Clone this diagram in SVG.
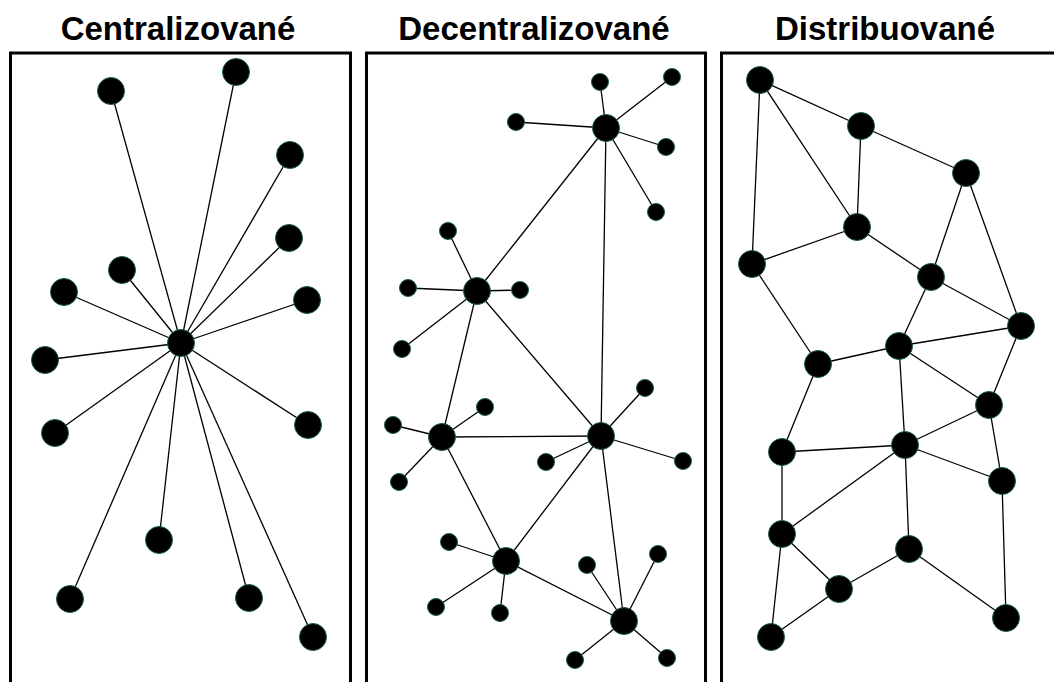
<svg xmlns="http://www.w3.org/2000/svg" width="1054" height="682" viewBox="0 0 1054 682">
  <style>
    .title { font-family: "Liberation Sans", Arial, sans-serif; font-weight: bold; font-size: 33px; fill: #000; text-anchor: middle; }
    .frame { fill: none; stroke: #000; stroke-width: 3; }
    .edges line { stroke: #000; stroke-width: 1.3; }
    .n { fill: #000; stroke: #1d5e52; stroke-width: 1; }
  </style>
  <rect width="1054" height="682" fill="#fff"/>

  <!-- panel frames -->
  <g id="frames">
    <rect class="frame" x="10.5" y="53" width="340" height="650"/>
    <rect class="frame" x="366.5" y="53" width="339" height="650"/>
    <rect class="frame" x="721.5" y="53" width="400" height="650"/>
  </g>

  <!-- titles -->
  <g id="titles">
    <text class="title" x="178" y="40">Centralizované</text>
    <text class="title" x="534" y="40">Decentralizované</text>
    <text class="title" x="885" y="40">Distribuované</text>
  </g>

  <!-- ===== centralized: star around one hub ===== -->
  <g id="central-edges" class="edges">
    <line x1="181" y1="343" x2="111" y2="91"/>
    <line x1="181" y1="343" x2="236" y2="72"/>
    <line x1="181" y1="343" x2="290" y2="155"/>
    <line x1="181" y1="343" x2="289" y2="238"/>
    <line x1="181" y1="343" x2="122" y2="270"/>
    <line x1="181" y1="343" x2="64" y2="292"/>
    <line x1="181" y1="343" x2="307" y2="300"/>
    <line x1="181" y1="343" x2="45" y2="360"/>
    <line x1="181" y1="343" x2="55" y2="433"/>
    <line x1="181" y1="343" x2="308" y2="425"/>
    <line x1="181" y1="343" x2="159" y2="540"/>
    <line x1="181" y1="343" x2="70" y2="599"/>
    <line x1="181" y1="343" x2="249" y2="598"/>
    <line x1="181" y1="343" x2="313" y2="637"/>
  </g>
  <g id="central-nodes">
    <circle id="c-hub" class="n" cx="181" cy="343" r="13.5"/>
    <circle id="c1" class="n" cx="111" cy="91" r="13.5"/>
    <circle id="c2" class="n" cx="236" cy="72" r="13.5"/>
    <circle id="c3" class="n" cx="290" cy="155" r="13.5"/>
    <circle id="c4" class="n" cx="289" cy="238" r="13.5"/>
    <circle id="c5" class="n" cx="122" cy="270" r="13.5"/>
    <circle id="c6" class="n" cx="64" cy="292" r="13.5"/>
    <circle id="c7" class="n" cx="307" cy="300" r="13.5"/>
    <circle id="c8" class="n" cx="45" cy="360" r="13.5"/>
    <circle id="c9" class="n" cx="55" cy="433" r="13.5"/>
    <circle id="c10" class="n" cx="308" cy="425" r="13.5"/>
    <circle id="c11" class="n" cx="159" cy="540" r="13.5"/>
    <circle id="c12" class="n" cx="70" cy="599" r="13.5"/>
    <circle id="c13" class="n" cx="249" cy="598" r="13.5"/>
    <circle id="c14" class="n" cx="313" cy="637" r="13.5"/>
  </g>

  <!-- ===== decentralized: several hubs with their own leaves ===== -->
  <g id="decentral-edges" class="edges">
    <!-- hub to hub -->
    <line x1="606" y1="128" x2="477" y2="291"/>
    <line x1="606" y1="128" x2="601" y2="436"/>
    <line x1="477" y1="291" x2="442" y2="437"/>
    <line x1="477" y1="291" x2="601" y2="436"/>
    <line x1="442" y1="437" x2="601" y2="436"/>
    <line x1="442" y1="437" x2="506" y2="561"/>
    <line x1="601" y1="436" x2="506" y2="561"/>
    <line x1="601" y1="436" x2="624" y2="621"/>
    <line x1="506" y1="561" x2="624" y2="621"/>
    <!-- hub to leaf -->
    <line x1="606" y1="128" x2="600" y2="82"/>
    <line x1="606" y1="128" x2="672" y2="77"/>
    <line x1="606" y1="128" x2="516" y2="122"/>
    <line x1="606" y1="128" x2="666" y2="147"/>
    <line x1="606" y1="128" x2="656" y2="212"/>
    <line x1="477" y1="291" x2="448" y2="231"/>
    <line x1="477" y1="291" x2="408" y2="288"/>
    <line x1="477" y1="291" x2="520" y2="290"/>
    <line x1="477" y1="291" x2="402" y2="349"/>
    <line x1="442" y1="437" x2="393" y2="425"/>
    <line x1="442" y1="437" x2="485" y2="407"/>
    <line x1="442" y1="437" x2="399" y2="482"/>
    <line x1="601" y1="436" x2="645" y2="388"/>
    <line x1="601" y1="436" x2="546" y2="462"/>
    <line x1="601" y1="436" x2="683" y2="461"/>
    <line x1="506" y1="561" x2="449" y2="542"/>
    <line x1="506" y1="561" x2="436" y2="607"/>
    <line x1="506" y1="561" x2="500" y2="613"/>
    <line x1="624" y1="621" x2="587" y2="565"/>
    <line x1="624" y1="621" x2="658" y2="554"/>
    <line x1="624" y1="621" x2="575" y2="660"/>
    <line x1="624" y1="621" x2="667" y2="658"/>
  </g>
  <g id="decentral-nodes">
    <circle id="d-hub1" class="n" cx="606" cy="128" r="13.5"/>
    <circle id="d-hub2" class="n" cx="477" cy="291" r="13.5"/>
    <circle id="d-hub3" class="n" cx="442" cy="437" r="13.5"/>
    <circle id="d-hub4" class="n" cx="601" cy="436" r="13.5"/>
    <circle id="d-hub5" class="n" cx="506" cy="561" r="13.5"/>
    <circle id="d-hub6" class="n" cx="624" cy="621" r="13.5"/>
    <circle class="n" cx="600" cy="82" r="8.5"/>
    <circle class="n" cx="672" cy="77" r="8.5"/>
    <circle class="n" cx="516" cy="122" r="8.5"/>
    <circle class="n" cx="666" cy="147" r="8.5"/>
    <circle class="n" cx="656" cy="212" r="8.5"/>
    <circle class="n" cx="448" cy="231" r="8.5"/>
    <circle class="n" cx="408" cy="288" r="8.5"/>
    <circle class="n" cx="520" cy="290" r="8.5"/>
    <circle class="n" cx="402" cy="349" r="8.5"/>
    <circle class="n" cx="393" cy="425" r="8.5"/>
    <circle class="n" cx="485" cy="407" r="8.5"/>
    <circle class="n" cx="399" cy="482" r="8.5"/>
    <circle class="n" cx="645" cy="388" r="8.5"/>
    <circle class="n" cx="546" cy="462" r="8.5"/>
    <circle class="n" cx="683" cy="461" r="8.5"/>
    <circle class="n" cx="449" cy="542" r="8.5"/>
    <circle class="n" cx="436" cy="607" r="8.5"/>
    <circle class="n" cx="500" cy="613" r="8.5"/>
    <circle class="n" cx="587" cy="565" r="8.5"/>
    <circle class="n" cx="658" cy="554" r="8.5"/>
    <circle class="n" cx="575" cy="660" r="8.5"/>
    <circle class="n" cx="667" cy="658" r="8.5"/>
  </g>

  <!-- ===== distributed: mesh ===== -->
  <g id="distrib-edges" class="edges">
    <line x1="760" y1="80" x2="861" y2="126"/>
    <line x1="760" y1="80" x2="857" y2="227"/>
    <line x1="760" y1="80" x2="752" y2="264"/>
    <line x1="861" y1="126" x2="857" y2="227"/>
    <line x1="861" y1="126" x2="966" y2="173"/>
    <line x1="966" y1="173" x2="931" y2="277"/>
    <line x1="966" y1="173" x2="1021" y2="326"/>
    <line x1="857" y1="227" x2="752" y2="264"/>
    <line x1="857" y1="227" x2="931" y2="277"/>
    <line x1="752" y1="264" x2="818" y2="364"/>
    <line x1="931" y1="277" x2="1021" y2="326"/>
    <line x1="931" y1="277" x2="899" y2="346"/>
    <line x1="1021" y1="326" x2="899" y2="346"/>
    <line x1="1021" y1="326" x2="989" y2="405"/>
    <line x1="899" y1="346" x2="818" y2="364"/>
    <line x1="899" y1="346" x2="989" y2="405"/>
    <line x1="899" y1="346" x2="905" y2="445"/>
    <line x1="818" y1="364" x2="782" y2="452"/>
    <line x1="989" y1="405" x2="905" y2="445"/>
    <line x1="989" y1="405" x2="1002" y2="481"/>
    <line x1="782" y1="452" x2="905" y2="445"/>
    <line x1="782" y1="452" x2="782" y2="534"/>
    <line x1="905" y1="445" x2="782" y2="534"/>
    <line x1="905" y1="445" x2="909" y2="549"/>
    <line x1="905" y1="445" x2="1002" y2="481"/>
    <line x1="1002" y1="481" x2="1006" y2="618"/>
    <line x1="782" y1="534" x2="839" y2="589"/>
    <line x1="782" y1="534" x2="771" y2="637"/>
    <line x1="839" y1="589" x2="909" y2="549"/>
    <line x1="839" y1="589" x2="771" y2="637"/>
    <line x1="909" y1="549" x2="1006" y2="618"/>
  </g>
  <g id="distrib-nodes">
    <circle id="m1" class="n" cx="760" cy="80" r="13.5"/>
    <circle id="m2" class="n" cx="861" cy="126" r="13.5"/>
    <circle id="m3" class="n" cx="966" cy="173" r="13.5"/>
    <circle id="m4" class="n" cx="857" cy="227" r="13.5"/>
    <circle id="m5" class="n" cx="752" cy="264" r="13.5"/>
    <circle id="m6" class="n" cx="931" cy="277" r="13.5"/>
    <circle id="m7" class="n" cx="1021" cy="326" r="13.5"/>
    <circle id="m8" class="n" cx="899" cy="346" r="13.5"/>
    <circle id="m9" class="n" cx="818" cy="364" r="13.5"/>
    <circle id="m10" class="n" cx="989" cy="405" r="13.5"/>
    <circle id="m11" class="n" cx="782" cy="452" r="13.5"/>
    <circle id="m12" class="n" cx="905" cy="445" r="13.5"/>
    <circle id="m13" class="n" cx="1002" cy="481" r="13.5"/>
    <circle id="m14" class="n" cx="782" cy="534" r="13.5"/>
    <circle id="m15" class="n" cx="909" cy="549" r="13.5"/>
    <circle id="m16" class="n" cx="839" cy="589" r="13.5"/>
    <circle id="m17" class="n" cx="771" cy="637" r="13.5"/>
    <circle id="m18" class="n" cx="1006" cy="618" r="13.5"/>
  </g>
</svg>
